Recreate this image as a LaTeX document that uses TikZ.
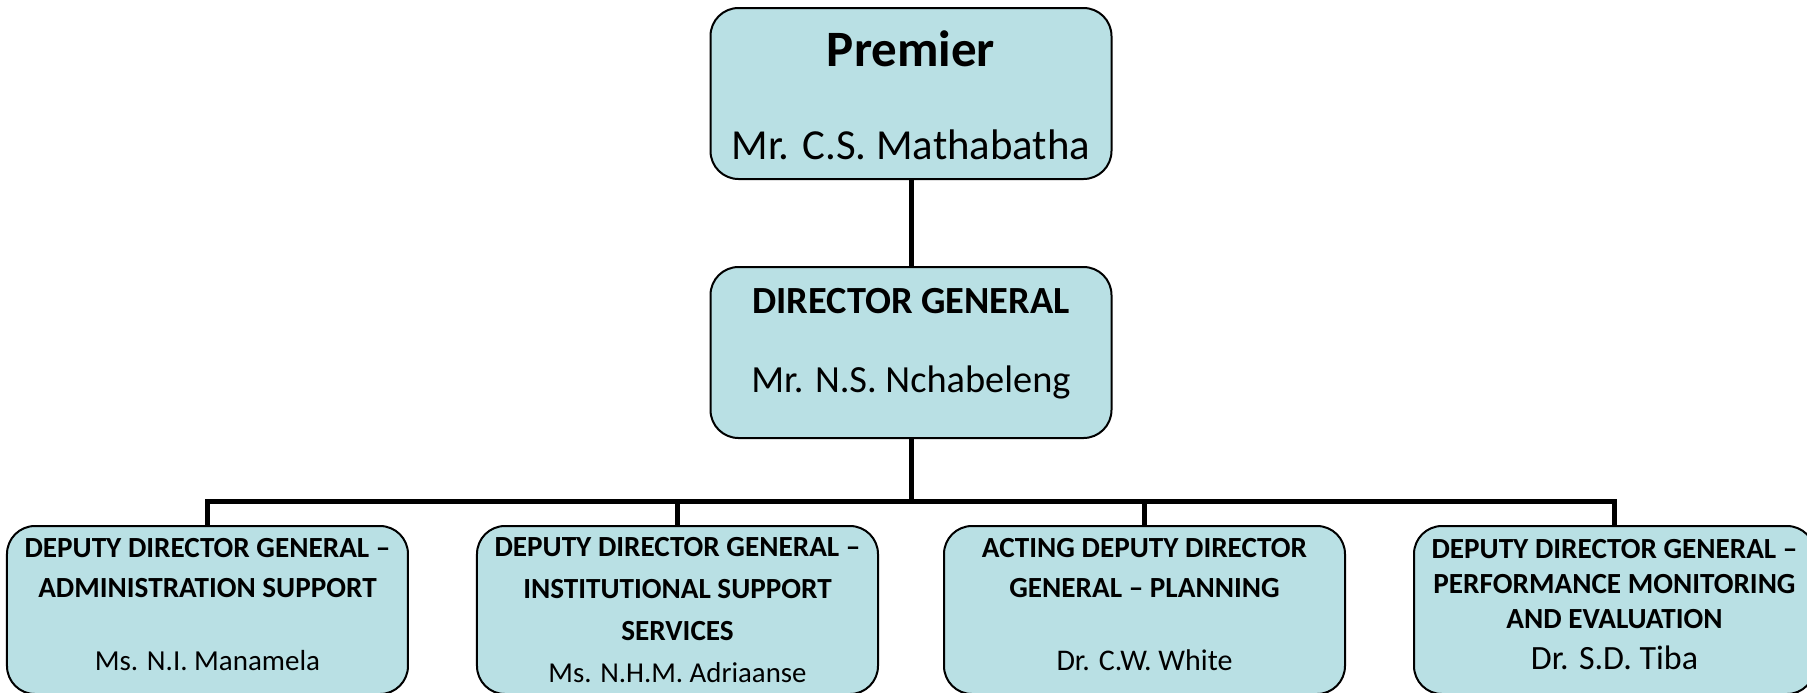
\documentclass[tikz,border=0pt]{standalone}
\usepackage{fontspec}
\setmainfont{Carlito}
\usepackage{tikz}
\usetikzlibrary{positioning}
\definecolor{postfill}{HTML}{B9E0E4}
\tikzset{
  post/.style={draw=black,fill=postfill,rounded corners=14pt,line width=1pt,align=center,minimum width=200.5pt,inner sep=0pt},
  link/.style={line width=2.5pt,color=black},
}

\begin{document}
\begin{tikzpicture}[
  head/.style={post,text height=75.5pt,text depth=10pt},
  unit/.style={post,text height=72.35pt,text depth=11.65pt,font=\fontsize{14.6}{20}\selectfont}]
  \useasboundingbox (-455.5pt,-299.25pt) rectangle (448pt,46.75pt);
  \node[head,font=\fontsize{21.4}{25}\selectfont] (premier) {{\fontsize{25.5}{25}\selectfont\bfseries Premier}\\[21.5pt]Mr. C.S. Mathabatha};
  \node[head,below=43pt of premier,text height=62.5pt,text depth=23pt,font=\fontsize{19.2}{23}\selectfont] (dg) {\textbf{DIRECTOR GENERAL}\\[16.5pt]Mr. N.S. Nchabeleng};
  \node[unit,below=43pt of dg,xshift=-116.75pt,text height=78pt,text depth=6pt,font=\fontsize{14.6}{21}\selectfont] (ddgis) {\textbf{DEPUTY DIRECTOR GENERAL –}\\\textbf{INSTITUTIONAL SUPPORT}\\\textbf{SERVICES}\\{\fontsize{14.4}{21}\selectfont Ms. N.H.M. Adriaanse}};
  \node[unit,left=33.5pt of ddgis] (ddgas) {\textbf{DEPUTY DIRECTOR GENERAL –}\\\textbf{ADMINISTRATION SUPPORT}\\[16.5pt]{\fontsize{14.5}{20}\selectfont Ms. N.I. Manamela}};
  \node[unit,below=43pt of dg,xshift=116.75pt] (addgp) {\textbf{ACTING DEPUTY DIRECTOR}\\\textbf{GENERAL – PLANNING}\\[16.5pt]{\fontsize{15}{20}\selectfont Dr. C.W. White}};
  \node[unit,right=33.5pt of addgp,text height=71.5pt,text depth=12.5pt,font=\fontsize{14.6}{17.5}\selectfont] (ddgpme) {\textbf{DEPUTY DIRECTOR GENERAL –}\\\textbf{PERFORMANCE MONITORING}\\\textbf{AND EVALUATION}\\[3pt]{\fontsize{17}{17.5}\selectfont Dr. S.D. Tiba}};
  \draw[link] (premier) -- (dg);
  \foreach \n in {ddgas,ddgis,addgp,ddgpme}
    \draw[link] (dg.south) -- ++(0,-31pt) -| (\n.north);
\end{tikzpicture}
\end{document}
